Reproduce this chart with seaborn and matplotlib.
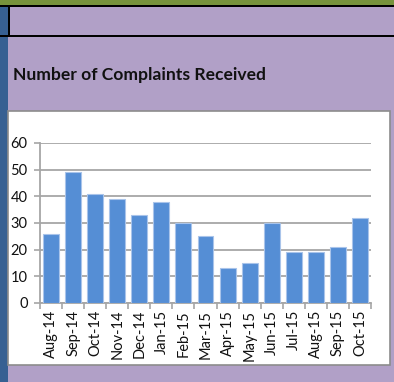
import matplotlib
matplotlib.use("Agg")
import matplotlib.pyplot as plt
from matplotlib.patches import Rectangle
from matplotlib.ticker import FixedLocator
import seaborn as sns
import pandas as pd

months = ["Aug-14", "Sep-14", "Oct-14", "Nov-14", "Dec-14", "Jan-15", "Feb-15",
          "Mar-15", "Apr-15", "May-15", "Jun-15", "Jul-15", "Aug-15", "Sep-15", "Oct-15"]
complaints = [26, 49, 41, 39, 33, 38, 30, 25, 13, 15, 30, 19, 19, 21, 32]
y_ticks = [0, 10, 20, 30, 40, 50, 60]
title = "Number of Complaints Received"

W, H = 394, 382
PURPLE = "#b1a0c7"
BLUE_STRIP = "#376092"
GREEN = "#77933c"
BAR = "#558ed5"
GRID = "#a6a6a6"

sns.set_theme(style="white")
plt.rcParams["font.family"] = ["Lato", "DejaVu Sans"]

fig = plt.figure(figsize=(W / 100, H / 100), dpi=100)
fig.patch.set_facecolor(PURPLE)


def px_rect(x0, y0, x1, y1, **kw):
    """Rectangle given in pixel coordinates measured from the top-left corner."""
    r = Rectangle((x0 / W, 1 - y1 / H), (x1 - x0) / W, (y1 - y0) / H,
                  transform=fig.transFigure, **kw)
    fig.add_artist(r)
    return r


# sheet decorations
px_rect(0, 0, W, 4.5, facecolor=GREEN, edgecolor="none", zorder=0)
px_rect(0, 4.5, W, 6.5, facecolor="black", edgecolor="none", zorder=1)
px_rect(0, 6.5, 8, H, facecolor=BLUE_STRIP, edgecolor="none", zorder=0)
px_rect(8, 6.5, 10, 35, facecolor="black", edgecolor="none", zorder=1)
px_rect(0, 35, W, 37, facecolor="black", edgecolor="none", zorder=1)

# chart area
px_rect(8, 111, 389.5, 364.5, facecolor="white", edgecolor="#8c8c8c",
        linewidth=1.2, zorder=0)

fig.text(13 / W, 1 - 75 / H, title, fontsize=12.6, fontweight="bold",
         color="#111111", ha="left", va="center")

ax = fig.add_axes([40 / W, 1 - 303 / H, 331 / W, 160 / H])
ax.set_facecolor("none")

df = pd.DataFrame({"month": months, "complaints": complaints})
sns.barplot(data=df, x="month", y="complaints", color=BAR, saturation=1,
            width=0.72, edgecolor="#a9c4ea", linewidth=0.8, ax=ax, zorder=3)

ax.set_xlim(-0.5, len(months) - 0.5)
ax.set_ylim(0, 60)
ax.set_yticks(y_ticks)
ax.set_yticklabels([str(v) for v in y_ticks])
ax.set_xlabel("")
ax.set_ylabel("")

ax.grid(axis="y", color=GRID, linewidth=1.3, zorder=0)
ax.set_axisbelow(True)
for side in ["top", "right"]:
    ax.spines[side].set_visible(False)
for side in ["left", "bottom"]:
    ax.spines[side].set_color(GRID)
    ax.spines[side].set_linewidth(1.3)

ax.tick_params(axis="y", which="major", direction="out", length=4, width=1.2,
               color=GRID, left=True, labelsize=10.5, labelcolor="#111111", pad=5)
ax.tick_params(axis="x", which="major", length=0, labelsize=10.5,
               labelcolor="#111111", pad=5, labelrotation=90)
ax.xaxis.set_minor_locator(FixedLocator([i - 0.5 for i in range(len(months) + 1)]))
ax.tick_params(axis="x", which="minor", direction="out", length=4, width=1.2,
               color=GRID, bottom=True)

fig.savefig("out.png", dpi=100, facecolor=PURPLE)
